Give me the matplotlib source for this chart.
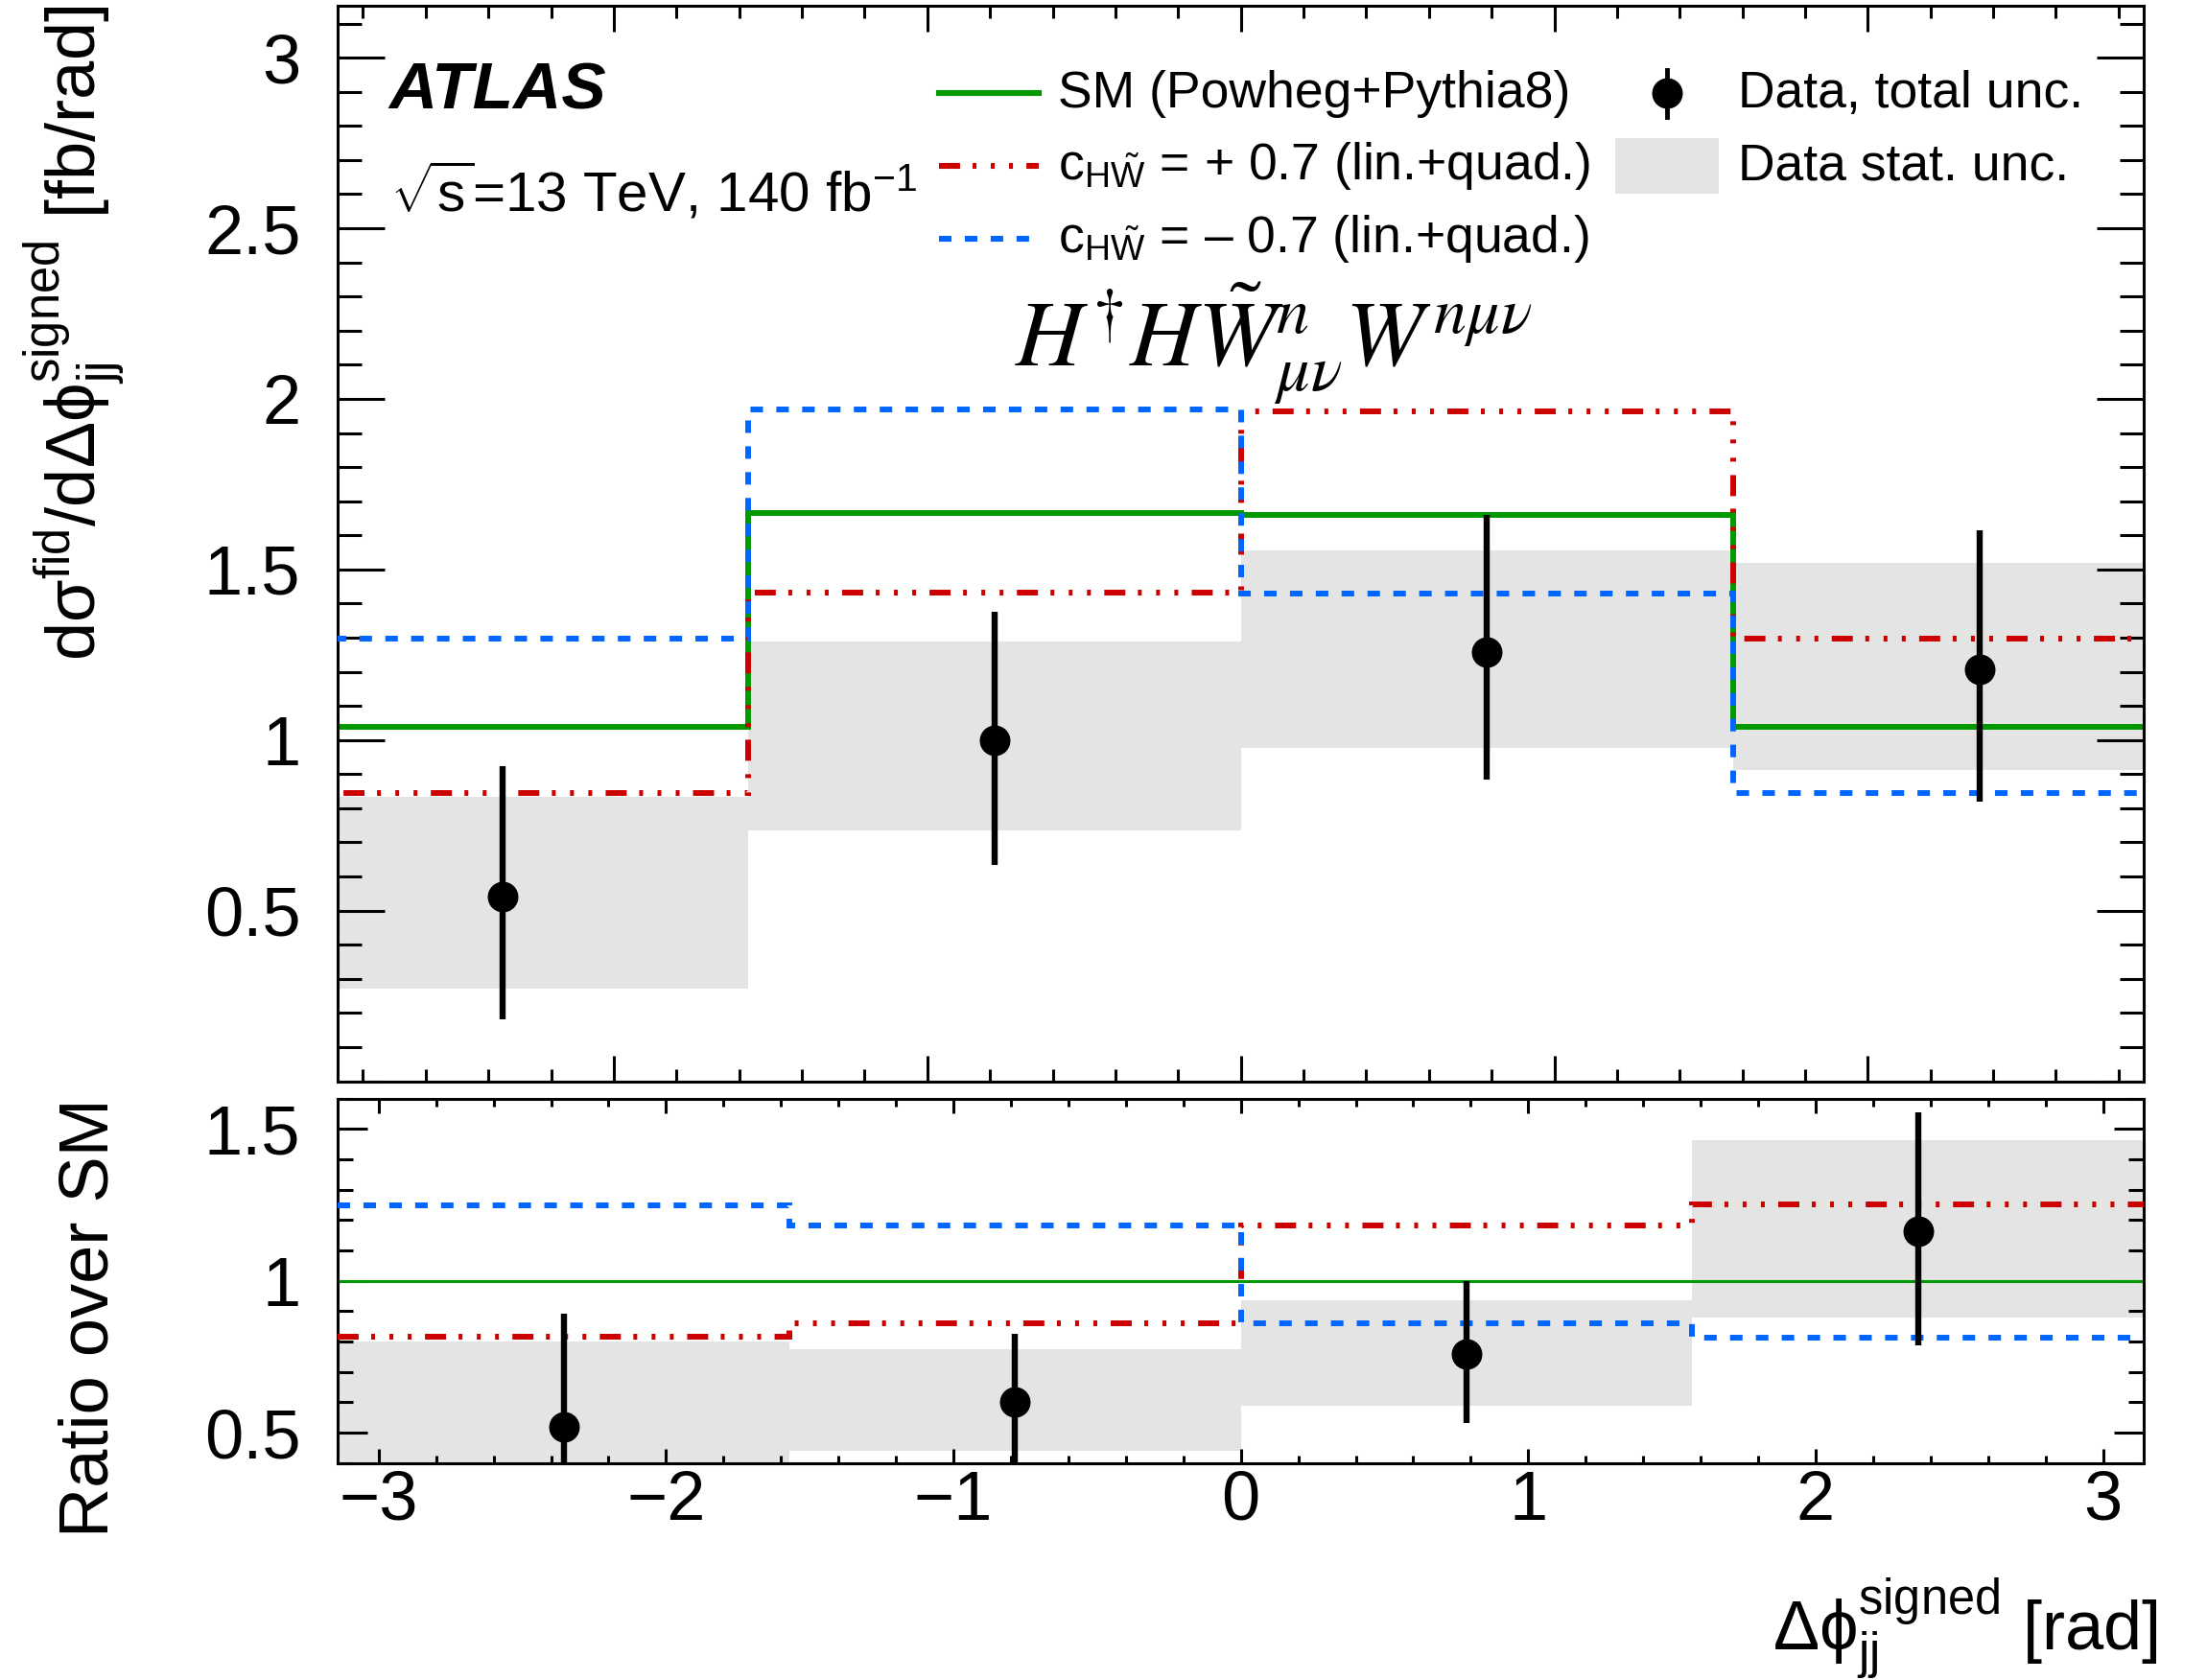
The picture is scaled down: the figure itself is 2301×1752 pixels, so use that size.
import matplotlib
matplotlib.use("Agg")
import matplotlib.pyplot as plt
from matplotlib.lines import Line2D
from matplotlib.patches import Rectangle
from matplotlib.ticker import MultipleLocator, FuncFormatter
import numpy as np

# binning in delta phi_jj (signed)
edges = [-np.pi, -np.pi / 2, 0.0, np.pi / 2, np.pi]
centers = [-3 * np.pi / 4, -np.pi / 4, np.pi / 4, 3 * np.pi / 4]

# predictions [fb/rad]
sm = [1.038, 1.666, 1.661, 1.038]
c_plus = [0.846, 1.432, 1.962, 1.298]   # cHWtil = +0.7
c_minus = [1.297, 1.969, 1.428, 0.844]  # cHWtil = -0.7

# measured data [fb/rad]
data = [0.540, 1.000, 1.259, 1.208]
tot_hi = [0.924, 1.377, 1.661, 1.615]
tot_lo = [0.180, 0.635, 0.883, 0.818]
stat_hi = [0.832, 1.289, 1.557, 1.518]
stat_lo = [0.272, 0.734, 0.977, 0.912]

W, H = 2301, 1752
plt.rcParams['font.family'] = ['Liberation Sans', 'DejaVu Sans']
plt.rcParams['mathtext.fontset'] = 'custom'
plt.rcParams['mathtext.rm'] = 'Liberation Sans'
plt.rcParams['mathtext.it'] = 'Liberation Sans:italic'
plt.rcParams['mathtext.bf'] = 'Liberation Sans:bold'
plt.rcParams['lines.scale_dashes'] = False

GREEN = '#009a00'
RED = '#cc0000'
BLUE = '#0066ff'
GREY = '#e4e4e4'
DASH_BLUE = (0, (9.4, 10.0))
DASH_RED = (0, (15.8, 9.4, 2.9, 10.8, 2.9, 10.8, 2.9, 10.1))


def fx(px):
    return px / W


def fy(py):
    return 1 - py / H


fig = plt.figure(figsize=(W / 100, H / 100), dpi=100)
L, R = 352.3, 2235.0
ax = fig.add_axes([fx(L), fy(1127.5), fx(R - L), (1127.5 - 5.7) / H])
ax2 = fig.add_axes([fx(L), fy(1525.7), fx(R - L), (1525.7 - 1145.7) / H])

sm_a = np.array(sm)
data_a = np.array(data)

# ---- top panel
ax.stairs(stat_hi, edges, baseline=stat_lo, fill=True, color=GREY, lw=0, zorder=1)
ax.stairs(sm, edges, baseline=None, color=GREEN, lw=4.3, zorder=2)
ax.stairs(c_plus, edges, baseline=None, color=RED, lw=4.3, ls=DASH_RED, zorder=3)
ax.stairs(c_minus, edges, baseline=None, color=BLUE, lw=4.3, ls=DASH_BLUE, zorder=4)
ax.errorbar(centers, data,
            yerr=[data_a - np.array(tot_lo), np.array(tot_hi) - data_a],
            fmt='o', color='black', ms=22, elinewidth=4.6, capsize=0, zorder=5)
ax.set_xlim(-2.88, 2.88)
ax.set_ylim(0.0, 3.153)

# ---- ratio panel
ax2.stairs(np.array(stat_hi) / sm_a, edges, baseline=np.array(stat_lo) / sm_a,
           fill=True, color=GREY, lw=0, zorder=1)
ax2.stairs(sm_a / sm_a, edges, baseline=None, color=GREEN, lw=2.2, zorder=2)
ax2.stairs(np.array(c_plus) / sm_a, edges, baseline=None, color=RED, lw=4.3,
           ls=DASH_RED, zorder=3)
ax2.stairs(np.array(c_minus) / sm_a, edges, baseline=None, color=BLUE, lw=4.3,
           ls=DASH_BLUE, zorder=4)
r = data_a / sm_a
ax2.errorbar(centers, r,
             yerr=[r - np.array(tot_lo) / sm_a, np.array(tot_hi) / sm_a - r],
             fmt='o', color='black', ms=22, elinewidth=4.6, capsize=0, zorder=5)
ax2.set_xlim(-np.pi, np.pi)
ax2.set_ylim(0.4, 1.6)

for a in (ax, ax2):
    for s in a.spines.values():
        s.set_linewidth(2.2)
    a.xaxis.set_major_locator(MultipleLocator(1))
    a.xaxis.set_minor_locator(MultipleLocator(0.2))
    a.yaxis.set_major_locator(MultipleLocator(0.5))
    a.yaxis.set_minor_locator(MultipleLocator(0.1))
    a.tick_params(which='both', direction='in', top=True, right=True, width=2.2,
                  labelsize=52)
    a.yaxis.set_major_formatter(FuncFormatter(lambda v, p: '' if v < 0.01 else f'{v:g}'))
    a.xaxis.set_major_formatter(FuncFormatter(lambda v, p: f'{v:g}'.replace('-', '\u2212')))

ax.tick_params(axis='y', which='major', length=35, pad=28)
ax.tick_params(axis='y', which='minor', length=18)
ax.tick_params(axis='x', which='major', length=19.4, labelbottom=False)
ax.tick_params(axis='x', which='minor', length=9.4)
ax2.tick_params(axis='y', which='major', length=22, pad=28)
ax2.tick_params(axis='y', which='minor', length=11.5)
ax2.tick_params(axis='x', which='major', length=11, pad=5)
ax2.tick_params(axis='x', which='minor', length=5.5)

# axis titles
ax.set_ylabel('dσ$^{\\mathrm{fid}}$/dΔϕ$^{\\mathrm{signed}}_{\\mathrm{jj}}$ [fb/rad]',
              fontsize=52, loc='top')
ax.yaxis.set_label_coords((135 - L) / (R - L), 1.0)
ax2.set_ylabel('Ratio over SM', fontsize=52, loc='top')
ax2.yaxis.set_label_coords((128 - L) / (R - L), 1.0)
fig.text(fx(2250), fy(1722), 'Δϕ$^{\\mathrm{signed}}_{\\mathrm{jj}}$ [rad]',
         fontsize=52, ha='right', va='baseline')

# ATLAS label
fig.text(fx(405), fy(113.3), 'ATLAS', fontsize=50, fontweight='bold',
         fontstyle='italic', va='baseline')
fig.text(fx(407), fy(220.7), '$\\sqrt{\\mathrm{s}}$=13 TeV, 140 fb$^{\\mathrm{-1}}$',
         fontsize=42, va='baseline')

# operator
fig.text(fx(1058), fy(381.7),
         r'$H^{\dagger}H\tilde{W}^{n}_{\mu\nu}W^{n\mu\nu}$',
         fontsize=70, va='baseline', math_fontfamily='stix')

# legend (drawn by hand to follow the ROOT layout)
leg_txt = ['SM (Powheg+Pythia8)',
           'c$_{\\mathrm{H\\tilde{W}}}$ = + 0.7 (lin.+quad.)',
           'c$_{\\mathrm{H\\tilde{W}}}$ = – 0.7 (lin.+quad.)']
leg_sty = [(GREEN, '-'), (RED, DASH_RED), (BLUE, DASH_BLUE)]
row_y = [97.3, 173.0, 248.7]
for t, (c, ls), yy in zip(leg_txt, leg_sty, row_y):
    fig.add_artist(Line2D([fx(979), fx(1083)], [fy(yy), fy(yy)], color=c, lw=4.4, ls=ls))
    fig.text(fx(1103), fy(yy + 14.4), t, fontsize=38.5, va='baseline')

fig.add_artist(Line2D([fx(1737.7), fx(1737.7)], [fy(73), fy(122)], color='black', lw=3.5))
fig.add_artist(Line2D([fx(1737.7)], [fy(97.3)], marker='o', color='black', ms=22, lw=0))
fig.text(fx(1812), fy(111.7), 'Data, total unc.', fontsize=38.5, va='baseline')
fig.add_artist(Rectangle((fx(1684), fy(202)), fx(1791.6 - 1684), 58 / H,
                         facecolor=GREY, edgecolor='none'))
fig.text(fx(1812), fy(188), 'Data stat. unc.', fontsize=38.5, va='baseline')

fig.savefig('out.png', dpi=100)
